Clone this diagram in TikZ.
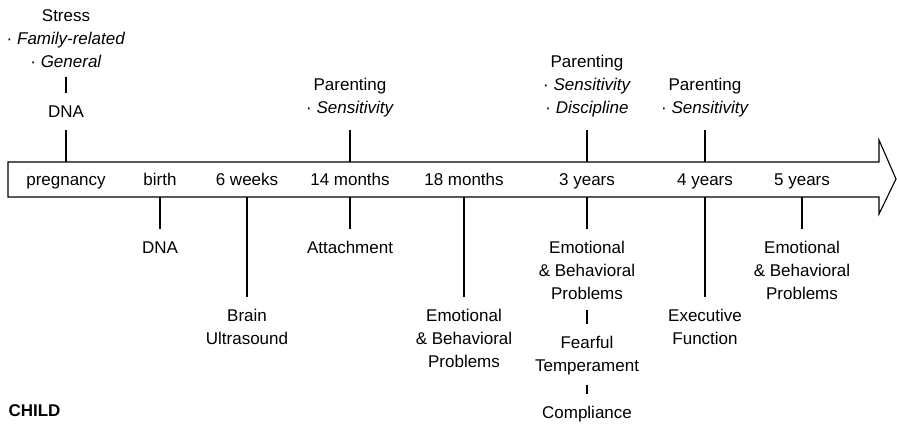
\documentclass[tikz,border=0pt]{standalone}
\usepackage{fontspec}
\setmainfont{Liberation Sans}
\usetikzlibrary{positioning}
\tikzset{
  lbl/.style={inner sep=0pt, align=center, font=\fontsize{8.5}{11.5}\selectfont},
  tick/.style={shorten >=6pt},
  link/.style={shorten <=4.5pt, shorten >=6pt},
}

\begin{document}
\begin{tikzpicture}[x=0.5pt, y=-0.5pt, line width=0.55pt]
  \tikzset{
    axislbl/.style={lbl, anchor=base},
    down/.style={lbl, anchor=north},
    up/.style={lbl, anchor=south},
  }
  \useasboundingbox (0,0) rectangle (897,423);

  % Time axis
  \draw (8,162) -- (879,162) -- (879,140) -- (896,179) -- (879,214) -- (879,197) -- (8,197) -- cycle;
  \coordinate (axtop) at (0,162);
  \coordinate (axbot) at (0,197);

  \node[axislbl] (preg) at (66,185.5) {pregnancy};
  \node[axislbl] (birth) at (160,185.5) {birth};
  \node[axislbl] (sixwk) at (247,185.5) {6 weeks};
  \node[axislbl] (fourteenmo) at (350,185.5) {14 months};
  \node[axislbl] (eighteenmo) at (464,185.5) {18 months};
  \node[axislbl] (threeyr) at (587,185.5) {3 years};
  \node[axislbl] (fouryr) at (705,185.5) {4 years};
  \node[axislbl] (fiveyr) at (802,185.5) {5 years};

  % Above the axis
  \node[up] (stress) at (66,68) {Stress\\· \textit{Family-related}\\· \textit{General}};
  \node[up] (dnamother) at (66,118) {DNA};
  \node[up] (parfourteen) at (350,118) {Parenting\\· \textit{Sensitivity}};
  \node[up] (parthree) at (587,118) {Parenting\\· \textit{Sensitivity}\\· \textit{Discipline}};
  \node[up] (parfour) at (705,118) {Parenting\\· \textit{Sensitivity}};

  % Below the axis
  \node[down] (dnachild) at (160,241) {DNA};
  \node[down] (brain) at (247,309) {Brain\\Ultrasound};
  \node[down] (attach) at (350,241) {Attachment};
  \node[down] (emoeighteen) at (464,309) {Emotional\\\& Behavioral\\Problems};
  \node[down] (emothree) at (587,241) {Emotional\\\& Behavioral\\Problems};
  \node[down] (fearful) at (587,336) {Fearful\\Temperament};
  \node[down] (compliance) at (587,406) {Compliance};
  \node[down] (exec) at (705,309) {Executive\\Function};
  \node[down] (emofive) at (802,241) {Emotional\\\& Behavioral\\Problems};

  \node[lbl, anchor=base west, font=\fontsize{8.5}{11.5}\selectfont\bfseries] (child) at (8,416) {CHILD};

  % Ticks
  \draw[tick] (preg |- axtop) -- (dnamother.south);
  \draw[tick] (fourteenmo |- axtop) -- (parfourteen.south);
  \draw[tick] (threeyr |- axtop) -- (parthree.south);
  \draw[tick] (fouryr |- axtop) -- (parfour.south);

  \draw[tick] (birth |- axbot) -- (dnachild.north);
  \draw[tick] (sixwk |- axbot) -- (brain.north);
  \draw[tick] (fourteenmo |- axbot) -- (attach.north);
  \draw[tick] (eighteenmo |- axbot) -- (emoeighteen.north);
  \draw[tick] (threeyr |- axbot) -- (emothree.north);
  \draw[tick] (fouryr |- axbot) -- (exec.north);
  \draw[tick] (fiveyr |- axbot) -- (emofive.north);

  % Links
  \draw[link] (stress.south) -- (dnamother.north);
  \draw[link] (emothree.south) -- (fearful.north);
  \draw[link] (fearful.south) -- (compliance.north);
\end{tikzpicture}
\end{document}
